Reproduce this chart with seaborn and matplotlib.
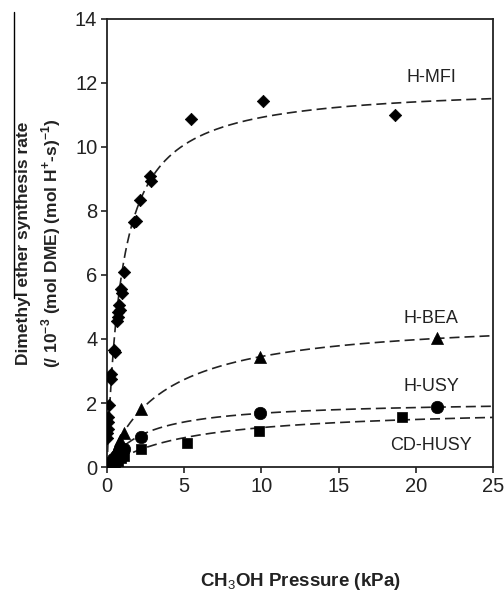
import numpy as np
import pandas as pd
import matplotlib
matplotlib.use('Agg')
import matplotlib.pyplot as plt
from matplotlib.lines import Line2D
import seaborn as sns

sns.set_style("ticks")
plt.rcParams['font.family'] = ['Liberation Sans', 'DejaVu Sans']
plt.rcParams['mathtext.fontset'] = 'custom'
plt.rcParams['mathtext.rm'] = 'Liberation Sans'
plt.rcParams['mathtext.bf'] = 'Liberation Sans:bold'

mfi_p = [0.0, 0.0, 0.05, 0.05, 0.05, 0.1, 0.23, 0.28, 0.45, 0.5, 0.65, 0.7, 0.7,
         0.8, 0.85, 0.9, 0.95, 1.12, 1.75, 1.85, 2.15, 2.8, 2.85, 5.42, 10.1, 18.65]
mfi_r = [0.9, 1.05, 1.2, 1.4, 1.55, 1.95, 2.9, 2.75, 3.65, 3.6, 4.55, 4.7, 4.85,
         5.05, 4.9, 5.55, 5.45, 6.1, 7.65, 7.7, 8.35, 9.1, 8.95, 10.87, 11.45, 11.0]
bea_p = [0.55, 0.65, 0.75, 0.85, 1.1, 2.18, 9.91, 21.35]
bea_r = [0.45, 0.6, 0.75, 0.85, 1.07, 1.8, 3.43, 4.02]
usy_p = [0.4, 0.6, 0.75, 0.9, 1.1, 2.22, 9.9, 21.4]
usy_r = [0.25, 0.35, 0.45, 0.5, 0.55, 0.93, 1.7, 1.86]
cd_p = [0.1, 0.3, 0.5, 0.7, 0.9, 1.1, 2.18, 5.2, 9.87, 19.08]
cd_r = [0.03, 0.08, 0.12, 0.2, 0.28, 0.35, 0.57, 0.76, 1.12, 1.55]

zeolites = ['H-MFI', 'H-BEA', 'H-USY', 'CD-HUSY']
# saturation-type rate law fits: r = a*P/(b+P)
fit_a = [11.94, 4.69, 2.08, 1.875]
fit_b = [0.93, 3.58, 2.39, 5.24]
label_y = [12.18, 4.65, 2.53, 0.67]

df = pd.concat([
    pd.DataFrame({'P': mfi_p, 'rate': mfi_r, 'zeolite': 'H-MFI'}),
    pd.DataFrame({'P': bea_p, 'rate': bea_r, 'zeolite': 'H-BEA'}),
    pd.DataFrame({'P': usy_p, 'rate': usy_r, 'zeolite': 'H-USY'}),
    pd.DataFrame({'P': cd_p, 'rate': cd_r, 'zeolite': 'CD-HUSY'}),
], ignore_index=True)

fig = plt.figure(figsize=(5.04, 5.91), dpi=100)
ax = fig.add_axes([0.2123, 0.2098, 0.7657, 0.7581])

pgrid = np.linspace(0.0, 25.0, 400)
for a, b in zip(fit_a, fit_b):
    ax.plot(pgrid, a * pgrid / (b + pgrid), color='#222222', lw=1.2,
            linestyle=(0, (6, 3)), zorder=2)

markers = {'H-MFI': 'D', 'H-BEA': '^', 'H-USY': 'o', 'CD-HUSY': 's'}
sizes = {'H-MFI': 40, 'H-BEA': 75, 'H-USY': 80, 'CD-HUSY': 55}
for z in zeolites:
    sub = df[df.zeolite == z]
    sns.scatterplot(data=sub, x='P', y='rate', marker=markers[z], s=sizes[z],
                    color='black', edgecolor='black', linewidth=0.5,
                    ax=ax, zorder=3, legend=False)

for z, y in zip(zeolites, label_y):
    ax.text(21.0, y, z, ha='center', va='center', fontsize=13, color='#222222')

ax.set_xlim(0, 25)
ax.set_ylim(0, 14)
ax.set_xticks(range(0, 26, 5))
ax.set_yticks(range(0, 15, 2))
ax.tick_params(direction='out', length=4, width=1.2, labelsize=14.5,
               colors='#222222', pad=3)
for sp in ax.spines.values():
    sp.set_visible(True)
    sp.set_linewidth(1.3)
    sp.set_color('#222222')

ax.set_xlabel('CH$_3$OH Pressure (kPa)', fontsize=13.5, fontweight='bold',
              color='#222222', va='top')
ax.xaxis.set_label_coords(0.5, -0.232)
ax.set_ylabel('Dimethyl ether synthesis rate\n'
              r'(/ 10$^{\mathbf{-3}}$ (mol DME) (mol H$^{\mathbf{+}}$-s)$^{\mathbf{-1}}$)',
              fontsize=12.5, fontweight='bold', color='#222222',
              linespacing=1.45)
ax.yaxis.set_label_coords(-0.115, 0.5)

# stray rule at the left page edge
fig.add_artist(Line2D([0.0278, 0.0278], [0.98, 0.495], color='black', lw=1.0))

fig.savefig('out.png', dpi=100)
